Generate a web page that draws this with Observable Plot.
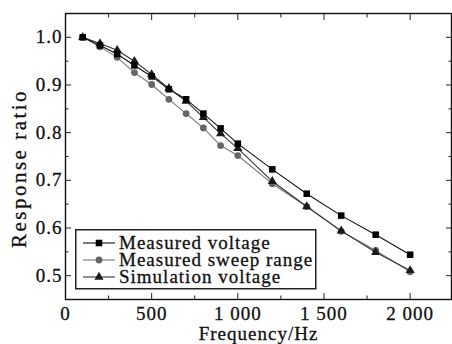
<!DOCTYPE html>
<html><head><meta charset="utf-8">
<script src="https://cdn.jsdelivr.net/npm/d3@7"></script>
<script src="https://cdn.jsdelivr.net/npm/@observablehq/plot@0.6"></script>
<style>
body{margin:0;background:#fff}
#wrap{position:relative;width:452px;height:344px}
#wrap svg text{font-family:"Liberation Serif","Times New Roman",serif !important;letter-spacing:1px;stroke:#111;stroke-width:0.3px}
#legend{position:absolute;left:75px;top:229px}
</style>
</head><body><div id="wrap"><div id="chart"></div><svg id="legend" width="242" height="61"></svg></div>
<script>
const frequency = [100,200,300,400,500,600,700,800,900,1000,1200,1400,1600,1800,2000];
const measuredVoltage = [1.0,0.983,0.965,0.941,0.918,0.891,0.870,0.840,0.809,0.777,0.723,0.672,0.626,0.586,0.544];
const measuredSweep = [1.0,0.980,0.958,0.926,0.901,0.870,0.840,0.810,0.773,0.752,0.693,0.645,0.593,0.553,0.508];
const simulationVoltage = [1.0,0.987,0.973,0.950,0.922,0.893,0.866,0.832,0.798,0.767,0.698,0.645,0.594,0.549,0.511];
const seriesNames = ["Measured voltage","Measured sweep range","Simulation voltage"];
const xTicks = [0,500,1000,1500,2000];
const xMinorTicks = [250,750,1250,1750];
const yTicks = [0.5,0.6,0.7,0.8,0.9,1.0];
const yMinorTicks = [0.55,0.65,0.75,0.85,0.95];
const xLabel = "Frequency/Hz";
const yLabel = "Response ratio";

const styles = [
  {symbol:"square", r:3.7, fill:"#000", stroke:"#111"},
  {symbol:"circle", r:3.4, fill:"#666", stroke:"#777"},
  {symbol:"triangle", r:3.4, fill:"#1a1a1a", stroke:"#333"}
];
const values = [measuredVoltage, measuredSweep, simulationVoltage];
const series = seriesNames.map((name,i)=>frequency.map((f,j)=>({name, x:f, y:values[i][j]})));
const drawOrder = [1,2,0];

const fmtX = d => d >= 1000 ? d3.format(",")(d).replace(",", " ") : String(d);
const fmtY = d3.format(".1f");

const marks = [];
for (const anchor of ["bottom","top"]) {
  marks.push(Plot.axisX(xTicks, {anchor, tickSize:-6, fill:"none", stroke:"#222", label:null}));
  marks.push(Plot.axisX(xMinorTicks, {anchor, tickSize:-3.5, fill:"none", stroke:"#222", label:null}));
}
for (const anchor of ["left","right"]) {
  marks.push(Plot.axisY(yTicks, {anchor, tickSize:-6, fill:"none", stroke:"#222", label:null}));
  marks.push(Plot.axisY(yMinorTicks, {anchor, tickSize:-3.5, fill:"none", stroke:"#222", label:null}));
}
marks.push(Plot.axisX(xTicks, {anchor:"bottom", tickSize:0, tickPadding:7, tickFormat:fmtX, label:null, fill:"#111", fontSize:19}));
marks.push(Plot.axisY(yTicks, {anchor:"left", tickSize:0, tickPadding:3, tickFormat:fmtY, label:null, fill:"#111", fontSize:19}));
for (const i of drawOrder) {
  const s = styles[i];
  marks.push(Plot.line(series[i], {x:"x", y:"y", stroke:s.stroke, strokeWidth:1.1}));
  marks.push(Plot.dot(series[i], {x:"x", y:"y", symbol:s.symbol, r:s.r, fill:s.fill, stroke:"none"}));
}
marks.push(Plot.frame({stroke:"#111", strokeWidth:1.4}));
marks.push(Plot.text([xLabel], {frameAnchor:"bottom", textAnchor:"middle", dy:34, fontSize:19, lineAnchor:"middle", fill:"#111"}));
marks.push(Plot.text([yLabel], {frameAnchor:"left", textAnchor:"middle", dx:-46, dy:12, rotate:-90, fontSize:21, lineAnchor:"middle", fill:"#111"}));

const chart = Plot.plot({
  width:452, height:344,
  marginLeft:65, marginRight:1, marginTop:13, marginBottom:45,
  style:{fontFamily:"'Liberation Serif', serif", fontSize:"19px", color:"#111", background:"#fff", overflow:"visible"},
  x:{domain:[0,2240]},
  y:{domain:[0.45,1.05]},
  marks
});
document.getElementById("chart").appendChild(chart);
d3.select(chart).selectAll("text").filter(function(){return this.textContent===yLabel;}).style("letter-spacing","2.5px");

const lg = d3.select("#legend");
lg.append("rect").attr("x",0.75).attr("y",0.75).attr("width",240).attr("height",59).attr("fill","#fff").attr("stroke","#222").attr("stroke-width",1.5);
seriesNames.forEach((name,i)=>{
  const s = styles[i];
  const cy = 14 + i*17;
  const sym = {square:d3.symbolSquare, circle:d3.symbolCircle, triangle:d3.symbolTriangle}[s.symbol];
  lg.append("line").attr("x1",8).attr("x2",40).attr("y1",cy).attr("y2",cy).attr("stroke",s.stroke).attr("stroke-width",1.1);
  lg.append("path").attr("transform",`translate(24,${cy})`).attr("d",d3.symbol(sym, Math.PI*s.r*s.r)()).attr("fill",s.fill);
  lg.append("text").attr("x",44).attr("y",cy+5.5).attr("font-size",19).attr("fill","#111").text(name);
});
</script>
</body></html>
